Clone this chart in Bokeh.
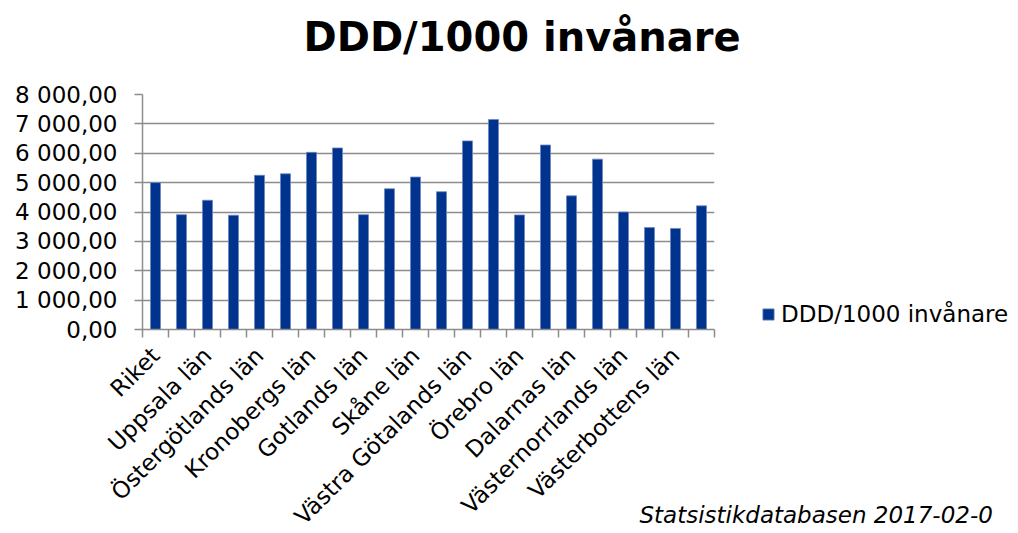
import math
from bokeh.plotting import figure
from bokeh.models import (Range1d, FixedTicker, Label, Legend, LegendItem,
                          ColumnDataSource)
from bokeh.embed import file_html
from bokeh.resources import INLINE

title_text = "DDD/1000 invånare"
series_name = "DDD/1000 invånare"
source_text = "Statsistikdatabasen 2017-02-0"

categories = ["Riket", "Stockholms län", "Uppsala län", "Södermanlands län",
              "Östergötlands län", "Jönköpings län", "Kronobergs län", "Kalmar län",
              "Gotlands län", "Blekinge län", "Skåne län", "Hallands län",
              "Västra Götalands län", "Värmlands län", "Örebro län", "Västmanlands län",
              "Dalarnas län", "Gävleborgs län", "Västernorrlands län", "Jämtlands län",
              "Västerbottens län", "Norrbottens län"]
values = [5000, 3910, 4400, 3890, 5250, 5300, 6030, 6180, 3910, 4790, 5190, 4690,
          6420, 7150, 3900, 6280, 4550, 5800, 4000, 3470, 3440, 4210]
y_ticks = [0, 1000, 2000, 3000, 4000, 5000, 6000, 7000, 8000]
y_tick_labels = ["0,00", "1 000,00", "2 000,00", "3 000,00", "4 000,00",
                 "5 000,00", "6 000,00", "7 000,00", "8 000,00"]

FONT = "DejaVu Sans"
BAR = "#00338D"
GRID = "#8c8c8c"
FS = "23px"

n = len(categories)
xs = [i + 0.5 for i in range(n)]
src = ColumnDataSource(dict(x=xs, top=values, name=categories))

p = figure(output_backend="svg", toolbar_location=None,
           x_range=Range1d(0, n), y_range=Range1d(0, 8000),
           frame_width=572, frame_height=235,
           min_border_left=142, min_border_right=288, min_border_top=94,
           min_border_bottom=180)
p.outline_line_color = None
p.background_fill_color = "white"
p.border_fill_color = "white"
p.title.text = ""
p.title.standoff = 0

r = p.vbar(x="x", top="top", width=0.385, source=src, fill_color=BAR,
           line_color="#6f86c0", line_width=0.8)

# y axis
p.yaxis.ticker = FixedTicker(ticks=y_ticks)
p.yaxis.major_label_overrides = {t: l for t, l in zip(y_ticks, y_tick_labels)}
p.yaxis.axis_line_color = GRID
p.yaxis.axis_line_width = 1.5
p.yaxis.major_tick_line_color = GRID
p.yaxis.major_tick_line_width = 1.5
p.yaxis.major_tick_out = 8
p.yaxis.major_tick_in = 0
p.yaxis.minor_tick_line_color = None
p.yaxis.major_label_standoff = 17
p.yaxis.major_label_text_font = FONT
p.yaxis.major_label_text_font_size = FS
p.yaxis.major_label_text_color = "black"

# x axis
label_ticks = [xs[i] for i in range(0, n, 2)]
p.xaxis.ticker = FixedTicker(ticks=label_ticks, minor_ticks=list(range(n + 1)))
p.xaxis.major_label_overrides = {xs[i]: categories[i] for i in range(0, n, 2)}
p.xaxis.axis_line_color = GRID
p.xaxis.axis_line_width = 1.5
p.xaxis.major_tick_line_color = None
p.xaxis.major_tick_out = 0
p.xaxis.major_tick_in = 0
p.xaxis.minor_tick_line_color = GRID
p.xaxis.minor_tick_line_width = 1.5
p.xaxis.minor_tick_out = 8
p.xaxis.minor_tick_in = 0
p.xaxis.major_label_orientation = math.pi / 4
p.xaxis.major_label_standoff = 14
p.xaxis.major_label_text_font = FONT
p.xaxis.major_label_text_font_size = FS
p.xaxis.major_label_text_color = "black"

p.xgrid.grid_line_color = None
p.ygrid.ticker = FixedTicker(ticks=y_ticks)
p.ygrid.grid_line_color = GRID
p.ygrid.grid_line_width = 1.5

# legend
legend = Legend(items=[LegendItem(label=series_name, renderers=[r])],
                location=(47, 2), orientation="vertical",
                glyph_width=14, glyph_height=14, label_standoff=6,
                padding=0, margin=0, spacing=0,
                border_line_color=None, background_fill_alpha=0,
                label_text_font=FONT, label_text_font_size=FS,
                label_text_color="black")
p.add_layout(legend, "right")

# title
p.add_layout(Label(x=161, y=58, x_units="screen", y_units="screen",
                   text=title_text, text_align="left", text_baseline="alphabetic",
                   text_font=FONT, text_font_size="40px", text_font_style="bold",
                   text_color="black"), "above")

# source note
p.add_layout(Label(x=497, y=53, x_units="screen", y_units="screen",
                   text=source_text, text_align="left", text_baseline="alphabetic",
                   text_font=FONT, text_font_size=FS, text_font_style="italic",
                   text_color="black"), "below")

open("out.html", "w").write(file_html(p, INLINE))
